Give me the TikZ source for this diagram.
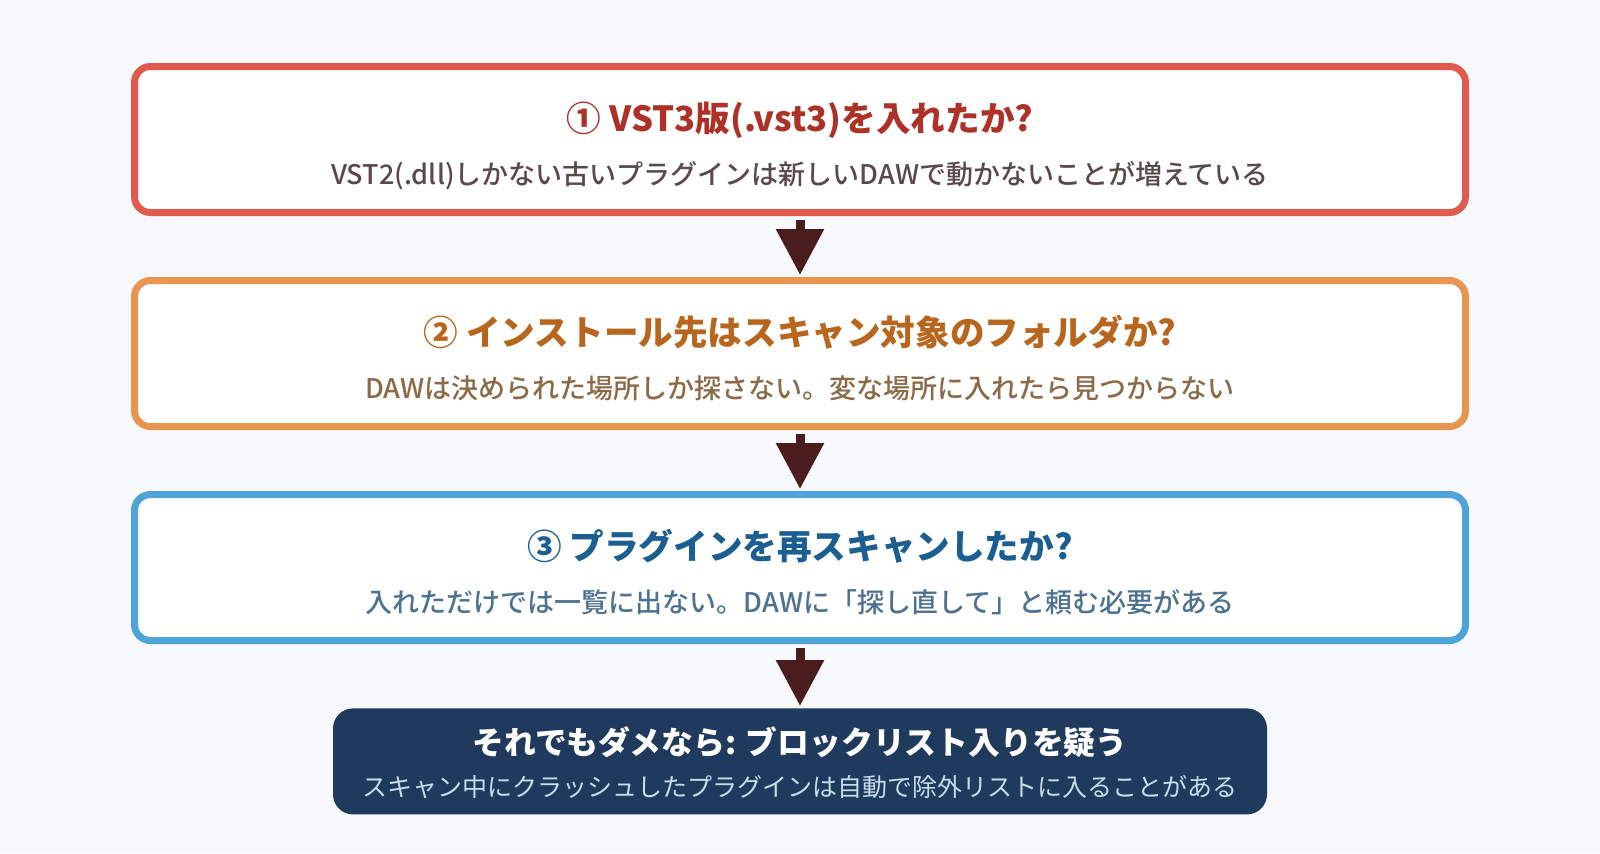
\documentclass[tikz,border=0pt]{standalone}
\usepackage{fontspec}
\setmainfont{Noto Sans CJK JP}
\newfontfamily\medfont{Noto Sans CJK JP Medium}
\usetikzlibrary{arrows.meta,positioning}
\definecolor{pagebg}{HTML}{F7F8FC}
\definecolor{redline}{HTML}{E05A4E}
\definecolor{redhead}{HTML}{AE3127}
\definecolor{redsub}{HTML}{5B4848}
\definecolor{orgline}{HTML}{E8954F}
\definecolor{orghead}{HTML}{B8661E}
\definecolor{orgsub}{HTML}{8C6A48}
\definecolor{bluline}{HTML}{4EA3D8}
\definecolor{bluhead}{HTML}{1B5E91}
\definecolor{blusub}{HTML}{4D7191}
\definecolor{navy}{HTML}{1F3A5C}
\definecolor{navysub}{HTML}{C8DCF0}
\definecolor{arrowc}{HTML}{4A1C1E}

\begin{document}
\begin{tikzpicture}[x=0.5pt,y=-0.5pt,
        check/.style={draw,fill=white,line width=3.5pt,rounded corners=8pt,
            minimum width=665.5pt,minimum height=73pt,align=center,
            text height=45.4pt,text depth=0pt,
            font=\medfont\fontsize{13.5}{26.5}\selectfont},
        last/.style={fill=navy,rounded corners=10pt,text=navysub,
            minimum width=467pt,minimum height=53pt,align=center,
            text height=35pt,text depth=0pt,
            font=\fontsize{12.5}{21}\selectfont},
        down/.style={line width=4.5pt,draw=arrowc,
            -{Triangle[width=23pt,length=23pt]},shorten <=2pt,shorten >=1pt}]
        \useasboundingbox[fill=pagebg] (0,0) rectangle (1600,853);

        \node[check,draw=redline,text=redsub] (q1) at (800,139.5)
            {{\normalfont\bfseries\fontsize{17.3}{26.5}\selectfont\color{redhead}① VST3版(.vst3)を入れたか?}\\
             VST2(.dll)しかない古いプラグインは新しいDAWで動かないことが増えている};
        \node[check,draw=orgline,text=orgsub,below=30.5pt of q1] (q2)
            {{\normalfont\bfseries\fontsize{17.3}{26.5}\selectfont\color{orghead}② インストール先はスキャン対象のフォルダか?}\\
             DAWは決められた場所しか探さない。変な場所に入れたら見つからない};
        \node[check,draw=bluline,text=blusub,below=30.5pt of q2] (q3)
            {{\normalfont\bfseries\fontsize{17.3}{26.5}\selectfont\color{bluhead}③ プラグインを再スキャンしたか?}\\
             入れただけでは一覧に出ない。DAWに「探し直して」と頼む必要がある};
        \node[last,below=32pt of q3] (q4)
            {{\bfseries\fontsize{15.9}{21}\selectfont\color{white}それでもダメなら: ブロックリスト入りを疑う}\\
             スキャン中にクラッシュしたプラグインは自動で除外リストに入ることがある};

        \draw[down] (q1) -- (q2);
        \draw[down] (q2) -- (q3);
        \draw[down] (q3) -- (q4);
\end{tikzpicture}
\end{document}
